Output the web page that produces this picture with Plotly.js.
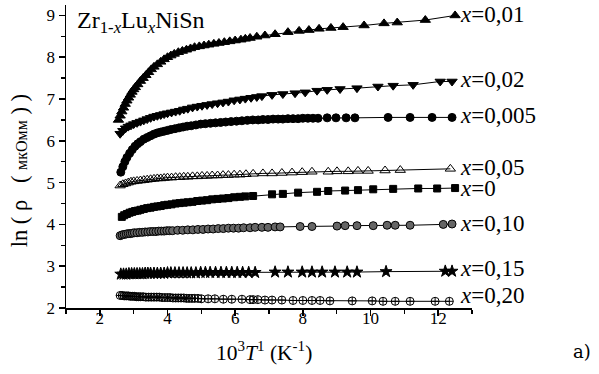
<!DOCTYPE html>
<html>
<head>
<meta charset="utf-8">
<script src="https://cdn.plot.ly/plotly-3.0.1.min.js"></script>
<style>html,body{margin:0;padding:0;background:#fff;}#chart{width:599px;height:374px;}</style>
</head>
<body>
<div id="chart"></div>
<script>
// x = 0.01 (filled triangle up)
const x001 = [2.55,2.6,2.65,2.7,2.75,2.8,2.85,2.9,2.95,3.0,3.05,3.12,3.2,3.28,3.36,3.44,3.52,3.6,3.7,3.8,3.9,4.0,4.1,4.2,4.32,4.44,4.56,4.68,4.8,4.94,5.08,5.22,5.37,5.52,5.68,5.84,6.0,6.17,6.3,6.44,6.64,6.88,7.18,7.56,7.89,8.18,8.48,8.83,9.19,9.81,10.4,10.79,11.62,12.5];
const y001 = [6.5,6.6,6.7,6.79,6.88,6.96,7.03,7.1,7.17,7.23,7.28,7.35,7.43,7.5,7.57,7.64,7.71,7.77,7.83,7.89,7.95,8.0,8.04,8.08,8.12,8.15,8.18,8.21,8.24,8.26,8.28,8.3,8.32,8.34,8.36,8.38,8.4,8.42,8.44,8.46,8.49,8.52,8.55,8.6,8.63,8.65,8.68,8.7,8.72,8.76,8.81,8.83,8.89,9.0];
// x = 0.02 (filled triangle down)
const x002 = [2.6,2.68,2.76,2.84,2.92,3.0,3.1,3.2,3.3,3.4,3.5,3.6,3.7,3.8,3.9,4.0,4.12,4.24,4.36,4.48,4.6,4.74,4.88,5.02,5.17,5.32,5.48,5.64,5.8,5.97,6.14,6.3,6.47,6.64,6.79,7.09,7.41,7.77,8.07,8.42,8.72,9.1,9.6,10.22,10.67,11.26,12.06,12.41];
const y002 = [6.17,6.24,6.3,6.34,6.37,6.4,6.43,6.46,6.49,6.52,6.55,6.58,6.6,6.62,6.64,6.66,6.68,6.7,6.72,6.75,6.77,6.8,6.82,6.84,6.86,6.88,6.9,6.92,6.94,6.97,6.99,7.01,7.03,7.05,7.07,7.1,7.12,7.14,7.16,7.2,7.22,7.24,7.26,7.3,7.32,7.34,7.42,7.42];
// x = 0.005 (filled circle)
const x0005 = [2.62,2.68,2.74,2.8,2.88,2.96,3.04,3.12,3.2,3.3,3.4,3.5,3.6,3.7,3.8,3.9,4.0,4.1,4.22,4.34,4.46,4.58,4.7,4.84,4.98,5.12,5.27,5.42,5.57,5.72,5.88,6.04,6.2,6.36,6.52,6.68,6.82,6.97,7.12,7.27,7.41,7.56,7.71,7.86,8.0,8.15,8.3,8.45,8.72,8.98,9.28,9.54,10.52,11.17,11.82,12.41];
const y0005 = [5.25,5.38,5.5,5.6,5.7,5.79,5.87,5.93,5.98,6.04,6.08,6.12,6.16,6.19,6.21,6.23,6.25,6.27,6.29,6.31,6.33,6.35,6.36,6.38,6.4,6.41,6.42,6.43,6.44,6.45,6.46,6.47,6.48,6.49,6.5,6.5,6.51,6.51,6.52,6.52,6.52,6.53,6.53,6.53,6.54,6.54,6.54,6.54,6.55,6.55,6.55,6.55,6.56,6.56,6.56,6.56];
// x = 0.05 (open triangle up)
const x005 = [2.6,2.68,2.76,2.84,2.92,3.0,3.1,3.2,3.3,3.4,3.5,3.6,3.7,3.8,3.9,4.0,4.12,4.24,4.36,4.48,4.6,4.74,4.88,5.02,5.17,5.32,5.48,5.64,5.8,5.97,6.14,6.32,6.53,6.82,7.09,7.38,7.68,7.98,8.27,8.75,9.01,9.34,9.63,9.93,10.43,10.88,12.36];
const y005 = [4.93,4.96,4.98,5.0,5.02,5.03,5.04,5.05,5.06,5.07,5.08,5.09,5.1,5.1,5.11,5.12,5.12,5.13,5.13,5.14,5.14,5.15,5.15,5.16,5.16,5.17,5.17,5.18,5.18,5.19,5.19,5.2,5.21,5.22,5.22,5.23,5.24,5.25,5.26,5.26,5.27,5.27,5.28,5.28,5.29,5.3,5.33];
// x = 0 (filled square)
const x0 = [2.65,2.72,2.8,2.88,2.96,3.04,3.12,3.2,3.3,3.4,3.5,3.6,3.7,3.8,3.9,4.0,4.12,4.24,4.36,4.48,4.6,4.74,4.88,5.02,5.17,5.32,5.48,5.64,5.8,5.97,6.14,6.3,6.53,7.09,7.41,7.86,8.42,8.75,9.25,9.63,10.08,10.67,11.41,11.97,12.5];
const y0 = [4.18,4.22,4.25,4.28,4.3,4.32,4.33,4.35,4.37,4.39,4.4,4.42,4.43,4.44,4.46,4.47,4.48,4.5,4.51,4.52,4.53,4.54,4.56,4.57,4.58,4.6,4.61,4.62,4.63,4.65,4.66,4.67,4.68,4.72,4.73,4.76,4.78,4.8,4.81,4.82,4.84,4.85,4.86,4.86,4.87];
// x = 0.10 (half-filled circle)
const x010 = [2.6,2.66,2.72,2.78,2.84,2.9,2.96,3.02,3.1,3.18,3.26,3.34,3.42,3.5,3.58,3.66,3.74,3.82,3.9,3.98,4.06,4.15,4.3,4.45,4.6,4.75,4.9,5.05,5.2,5.35,5.5,5.65,5.8,5.95,6.1,6.25,6.44,6.59,6.79,6.97,7.18,7.33,7.92,8.27,9.01,9.25,9.6,10.08,10.49,10.73,11.17,12.15,12.41];
const y010 = [3.73,3.75,3.76,3.77,3.78,3.78,3.79,3.8,3.8,3.81,3.81,3.82,3.82,3.83,3.83,3.83,3.84,3.84,3.84,3.85,3.85,3.85,3.86,3.86,3.87,3.87,3.88,3.88,3.89,3.89,3.9,3.9,3.91,3.91,3.91,3.92,3.92,3.93,3.93,3.93,3.94,3.94,3.95,3.95,3.96,3.97,3.97,3.97,3.98,3.98,3.98,4.0,4.01];
// x = 0.15 (star)
const x015 = [2.62,2.7,2.78,2.86,2.94,3.02,3.1,3.18,3.26,3.34,3.42,3.5,3.6,3.7,3.8,3.9,4.0,4.1,4.22,4.34,4.46,4.58,4.7,4.84,4.98,5.12,5.26,5.42,5.58,5.74,5.9,6.06,6.22,6.4,6.59,7.18,7.56,7.98,8.27,8.57,8.95,9.31,9.6,10.46,12.21,12.41];
const y015 = [2.81,2.81,2.81,2.82,2.82,2.82,2.82,2.82,2.82,2.83,2.83,2.83,2.83,2.83,2.83,2.83,2.84,2.84,2.84,2.84,2.84,2.84,2.84,2.84,2.85,2.85,2.85,2.85,2.85,2.85,2.85,2.85,2.85,2.85,2.85,2.86,2.86,2.86,2.86,2.86,2.86,2.86,2.86,2.87,2.88,2.88];
// x = 0.20 (circle with cross)
const x020 = [2.6,2.66,2.72,2.78,2.84,2.9,2.96,3.02,3.08,3.14,3.2,3.28,3.36,3.44,3.52,3.6,3.68,3.76,3.84,3.92,4.0,4.08,4.16,4.24,4.32,4.4,4.48,4.56,4.64,4.72,4.8,4.9,5.0,5.2,5.4,5.65,5.9,6.2,6.44,6.53,6.67,6.88,7.09,7.38,7.71,8.0,8.27,8.51,8.8,9.46,10.05,10.37,10.73,11.17,11.91,12.33];
const y020 = [2.3,2.3,2.29,2.29,2.29,2.28,2.28,2.28,2.27,2.27,2.27,2.27,2.26,2.26,2.26,2.26,2.26,2.26,2.25,2.25,2.25,2.25,2.24,2.24,2.24,2.24,2.24,2.23,2.23,2.23,2.23,2.23,2.22,2.22,2.22,2.21,2.21,2.21,2.2,2.2,2.2,2.19,2.19,2.19,2.18,2.18,2.18,2.18,2.17,2.17,2.17,2.16,2.16,2.16,2.16,2.16];

const seriesLabels = ['<i>x</i>=0,01','<i>x</i>=0,02','<i>x</i>=0,005','<i>x</i>=0,05','<i>x</i>=0','<i>x</i>=0,10','<i>x</i>=0,15','<i>x</i>=0,20'];
const labelY = [9.02, 7.46, 6.6, 5.35, 4.87, 4.03, 2.95, 2.3];

const FONT = 'Liberation Serif';

const specs = [
  {x:x001, y:y001, symbol:'triangle-up', size:9, color:'#000'},
  {x:x002, y:y002, symbol:'triangle-down', size:9, color:'#000'},
  {x:x0005, y:y0005, symbol:'circle', size:8, color:'#000'},
  {x:x005, y:y005, symbol:'triangle-up-open', size:9, color:'#000'},
  {x:x0, y:y0, symbol:'square', size:7, color:'#000'},
  {x:x010, y:y010, symbol:'circle', size:8, color:'#666'},
  {x:x015, y:y015, symbol:'star', size:9, color:'#000'},
  {x:x020, y:y020, symbol:'circle-cross-open', size:8, color:'#000'}
];

const traces = specs.map(s => ({
  type:'scatter', mode:'lines+markers', x:s.x, y:s.y,
  line:{color:'#000', width:1},
  marker:{symbol:s.symbol, size:s.size, color:s.color, line:{color:'#000', width:1}},
  cliponaxis:false, showlegend:false, hoverinfo:'skip'
}));

const annotations = seriesLabels.map((t,i) => ({
  xref:'x', yref:'y', x:12.58, y:labelY[i], text:t, showarrow:false,
  xanchor:'left', yanchor:'middle', font:{family:FONT, size:23, color:'#000'}
}));

annotations.push({
  xref:'paper', yref:'paper', x:0.022, y:1.0, xanchor:'left', yanchor:'top',
  text:'Zr<sub>1-<i>x</i></sub>Lu<sub><i>x</i></sub>NiSn', showarrow:false,
  font:{family:FONT, size:24, color:'#000'}
});
annotations.push({
  xref:'paper', yref:'paper', x:0.488, y:-0.145, xanchor:'center', yanchor:'middle',
  text:'10<sup>3</sup><i>T</i><sup>1</sup> (K<sup>-1</sup>)', showarrow:false,
  font:{family:FONT, size:21.5, color:'#000'}
});
annotations.push({
  xref:'paper', yref:'paper', x:-0.115, y:0.452, xanchor:'center', yanchor:'middle', textangle:-90,
  text:'ln ( ρ   ( <span style="font-size:16px">мкОмм</span> ) )', showarrow:false,
  font:{family:FONT, size:22.5, color:'#000'}
});
annotations.push({
  xref:'paper', yref:'paper', x:1.27, y:-0.142, xanchor:'center', yanchor:'middle',
  text:'a)', showarrow:false, font:{family:'DejaVu Serif', size:18, color:'#000'}
});

const layout = {
  width:599, height:374,
  margin:{l:66, r:127, t:5, b:66},
  paper_bgcolor:'#fff', plot_bgcolor:'#fff',
  font:{family:FONT, color:'#000'},
  xaxis:{range:[1,13], tick0:0, dtick:2, ticks:'outside', ticklen:6, tickwidth:1.5, tickcolor:'#000',
    showline:true, linewidth:1.5, linecolor:'#000', showgrid:false, zeroline:false,
    ticklabelstandoff:-12,
    minor:{dtick:1, ticks:'outside', ticklen:4, tickwidth:1.5, tickcolor:'#000', showgrid:false},
    tickfont:{family:FONT, size:17, color:'#000'}},
  yaxis:{range:[2,9.25], tick0:0, dtick:1, ticks:'outside', ticklen:6, tickwidth:1.5, tickcolor:'#000',
    showline:true, linewidth:1.5, linecolor:'#000', showgrid:false, zeroline:false,
    minor:{dtick:0.5, ticks:'outside', ticklen:4, tickwidth:1.5, tickcolor:'#000', showgrid:false},
    tickfont:{family:FONT, size:17, color:'#000'}},
  annotations:annotations
};

Plotly.newPlot('chart', traces, layout, {staticPlot:true, displayModeBar:false});
</script>
</body>
</html>
